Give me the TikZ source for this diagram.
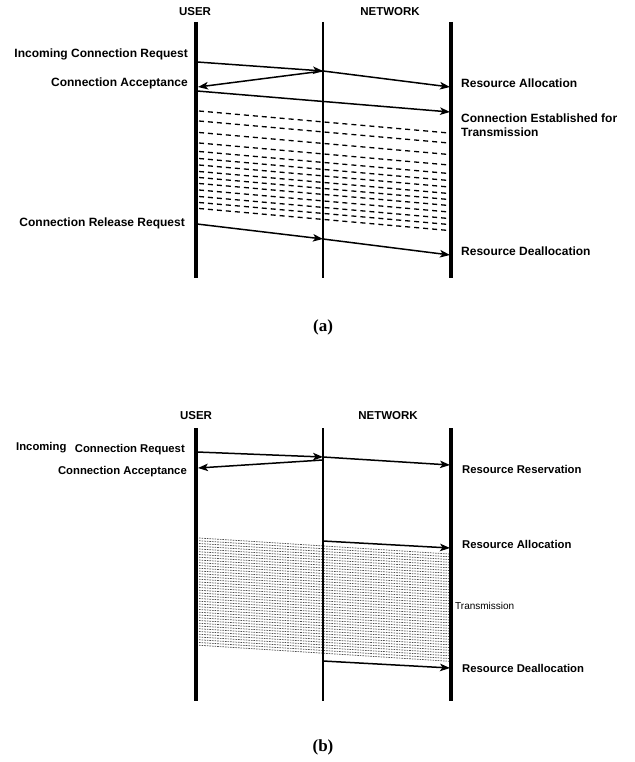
\documentclass[tikz,border=0pt]{standalone}
\usepackage{fontspec}
\setmainfont{Liberation Sans}
\newfontfamily\capfont{Liberation Serif}
\usetikzlibrary{arrows.meta, positioning}

\begin{document}
\begin{tikzpicture}[
    x=1pt, y=-1pt,
    every node/.style={font=\fontsize{12}{14}\selectfont\bfseries, inner sep=0pt},
    lifeline/.style={line width=#1},
    msg/.style={-{Stealth[length=10pt, width=7.5pt, inset=2.5pt]}, line width=1.5pt},
    dashline/.style={line width=1.3pt, dash pattern=on 5pt off 4pt},
    dotline/.style={line width=0.7pt, black!70, dash pattern=on 1.6pt off 1pt},
    heading/.style={font=\fontsize{11.5}{14}\selectfont\bfseries},
    labelb/.style={font=\fontsize{11.3}{14}\selectfont\bfseries},
    small/.style={font=\fontsize{10}{12}\selectfont},
    caption/.style={font=\capfont\bfseries\fontsize{17}{20}\selectfont}
]
\useasboundingbox (0,0) rectangle (634,762);

% ---------------- (a) ----------------
% Transmission (dashed)
\foreach \y in {111,121,132.5,143,151.5,158.5,165,171.5,177.5,183.5,190,196.5,202.5,208.5}
    \draw[dashline] (199,\y) -- (449,{\y+22});

% Lifelines
\coordinate (ua1) at (196,22);  \coordinate (ua2) at (196,278);
\coordinate (na1) at (323,22);  \coordinate (na2) at (323,278);
\coordinate (ra1) at (451,22);  \coordinate (ra2) at (451,278);
\draw[lifeline=3.5pt] (ua1) -- (ua2);
\draw[lifeline=2pt] (na1) -- (na2);
\draw[lifeline=3.5pt] (ra1) -- (ra2);

\node[heading] (usera) at (195,12) {USER};
\node[heading] (neta) at (390,12) {NETWORK};

% Message points
\coordinate (a1u) at (197,62);  \coordinate (a1n) at (323,71);  \coordinate (a1r) at (450,87);
\coordinate (a3u) at (198,87);
\coordinate (a4u) at (197,91);  \coordinate (a4r) at (450,112);
\coordinate (a5u) at (197,224); \coordinate (a5n) at (323,239); \coordinate (a5r) at (450,255);

% Messages
\draw[msg] (a1u) -- (a1n);
\draw[msg] (a1n) -- (a1r);
\draw[msg] (a1n) -- (a3u);
\draw[msg] (a4u) -- (a4r);
\draw[msg] (a5u) -- (a5n);
\draw[msg] (a5n) -- (a5r);

% Labels
\node[anchor=east] (reqa) at (188,54) {Incoming Connection Request};
\node[anchor=east] (acca) at (188,83) {Connection Acceptance};
\node[anchor=west] (alla) at (461,83) {Resource Allocation};
\node[anchor=west, align=left] (esta) at (461,125) {Connection Established for\\Transmission};
\node[anchor=east] (rela) at (185,223) {Connection Release Request};
\node[anchor=west] (deaa) at (461,251) {Resource Deallocation};

\node[caption] (capa) at (323,327) {(a)};

% ---------------- (b) ----------------
% Transmission (dotted)
\foreach \i in {0,...,39}
    \draw[dotline] (199,{538+2.75*\i}) -- (449,{554+2.75*\i});

% Lifelines
\coordinate (ub1) at (196,428);  \coordinate (ub2) at (196,701);
\coordinate (nb1) at (323,428);  \coordinate (nb2) at (323,701);
\coordinate (rb1) at (451,428);  \coordinate (rb2) at (451,701);
\draw[lifeline=3.5pt] (ub1) -- (ub2);
\draw[lifeline=1.2pt] (nb1) -- (nb2);
\draw[lifeline=3.5pt] (rb1) -- (rb2);

\node[heading] (userb) at (196,416) {USER};
\node[heading] (netb) at (388,416) {NETWORK};

% Message points
\coordinate (b1u) at (197,452); \coordinate (b1n) at (323,457); \coordinate (b1r) at (450,465);
\coordinate (b3n) at (323,460); \coordinate (b3u) at (198,468);
\coordinate (b4n) at (323,541); \coordinate (b4r) at (450,548);
\coordinate (b5n) at (323,661); \coordinate (b5r) at (450,668);

% Messages
\draw[msg] (b1u) -- (b1n);
\draw[msg] (b1n) -- (b1r);
\draw[msg] (b3n) -- (b3u);
\draw[msg] (b4n) -- (b4r);
\draw[msg] (b5n) -- (b5r);

% Labels
\node[labelb, anchor=west] (incb) at (16,448) {Incoming};
\node[labelb, anchor=east] (reqb) at (185,450) {Connection Request};
\node[labelb, anchor=east] (accb) at (187,472) {Connection Acceptance};
\node[labelb, anchor=west] (resb) at (462,469) {Resource Reservation};
\node[labelb, anchor=west] (allb) at (462,544) {Resource Allocation};
\node[small, anchor=west] (trab) at (455,606) {Transmission};
\node[labelb, anchor=west] (deab) at (462,668) {Resource Deallocation};

\node[caption] (capb) at (323,747) {(b)};

\end{tikzpicture}
\end{document}
